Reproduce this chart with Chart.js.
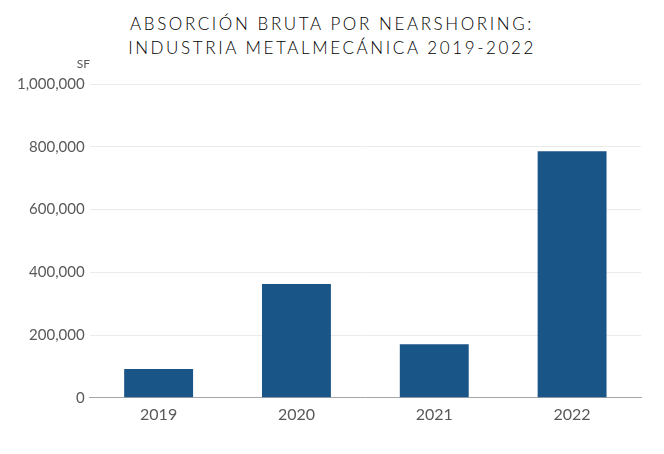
<!DOCTYPE html>
<html>
<head>
<meta charset="utf-8">
<script src="https://cdn.jsdelivr.net/npm/chart.js@4.4.0/dist/chart.umd.min.js"></script>
<style>
  html, body { margin: 0; padding: 0; background: #fff; }
  #wrap { position: relative; width: 664px; height: 454px; }
  #title {
    position: absolute; top: 12px; left: 0; width: 664px;
    text-align: center; font-family: Lato, sans-serif; font-weight: 300;
    font-size: 17px; line-height: 24px; letter-spacing: 2.6px; color: #000;
  }
  canvas { position: absolute; top: 0; left: 0; }
</style>
</head>
<body>
<div id="wrap">
  <div id="title">ABSORCIÓN BRUTA POR NEARSHORING:<br>INDUSTRIA METALMECÁNICA 2019-2022</div>
  <canvas id="chart" width="664" height="454"></canvas>
</div>
<script>
// data
const years = ['2019', '2020', '2021', '2022'];
const absorption = [92000, 363000, 171000, 786000];
const yMax = 1000000;
const yStep = 200000;
const unitLabel = 'SF';

// small "SF" label above the y axis
const unitPlugin = {
  id: 'unitLabel',
  afterDraw(chart) {
    const ctx = chart.ctx;
    const top = chart.scales.y.getPixelForValue(yMax);
    ctx.save();
    ctx.font = '12px Lato, sans-serif';
    ctx.fillStyle = '#595959';
    ctx.textAlign = 'right';
    ctx.textBaseline = 'middle';
    ctx.fillText(unitLabel, 90, top - 20);
    ctx.restore();
  }
};

const ctx = document.getElementById('chart').getContext('2d');
new Chart(ctx, {
  type: 'bar',
  data: {
    labels: years,
    datasets: [{
      label: 'Absorción bruta',
      data: absorption,
      backgroundColor: '#1a5588',
      borderWidth: 0,
      barPercentage: 0.5,
      categoryPercentage: 1
    }]
  },
  options: {
    responsive: false,
    animation: false,
    layout: { padding: { top: 84, right: 23, bottom: 31, left: 12 } },
    plugins: {
      legend: { display: false },
      tooltip: { enabled: false }
    },
    scales: {
      x: {
        grid: { display: false },
        border: { color: '#a6a6a6', width: 1 },
        ticks: { color: '#595959', font: { family: 'Lato, sans-serif', size: 16 }, padding: -1 }
      },
      y: {
        min: 0,
        max: yMax,
        ticks: {
          stepSize: yStep,
          color: '#595959',
          font: { family: 'Lato, sans-serif', size: 15 },
          padding: 5,
          callback: v => v.toLocaleString('en-US')
        },
        grid: { color: '#ebebeb', drawTicks: false },
        border: { display: false }
      }
    }
  },
  plugins: [unitPlugin]
});
</script>
</body>
</html>
